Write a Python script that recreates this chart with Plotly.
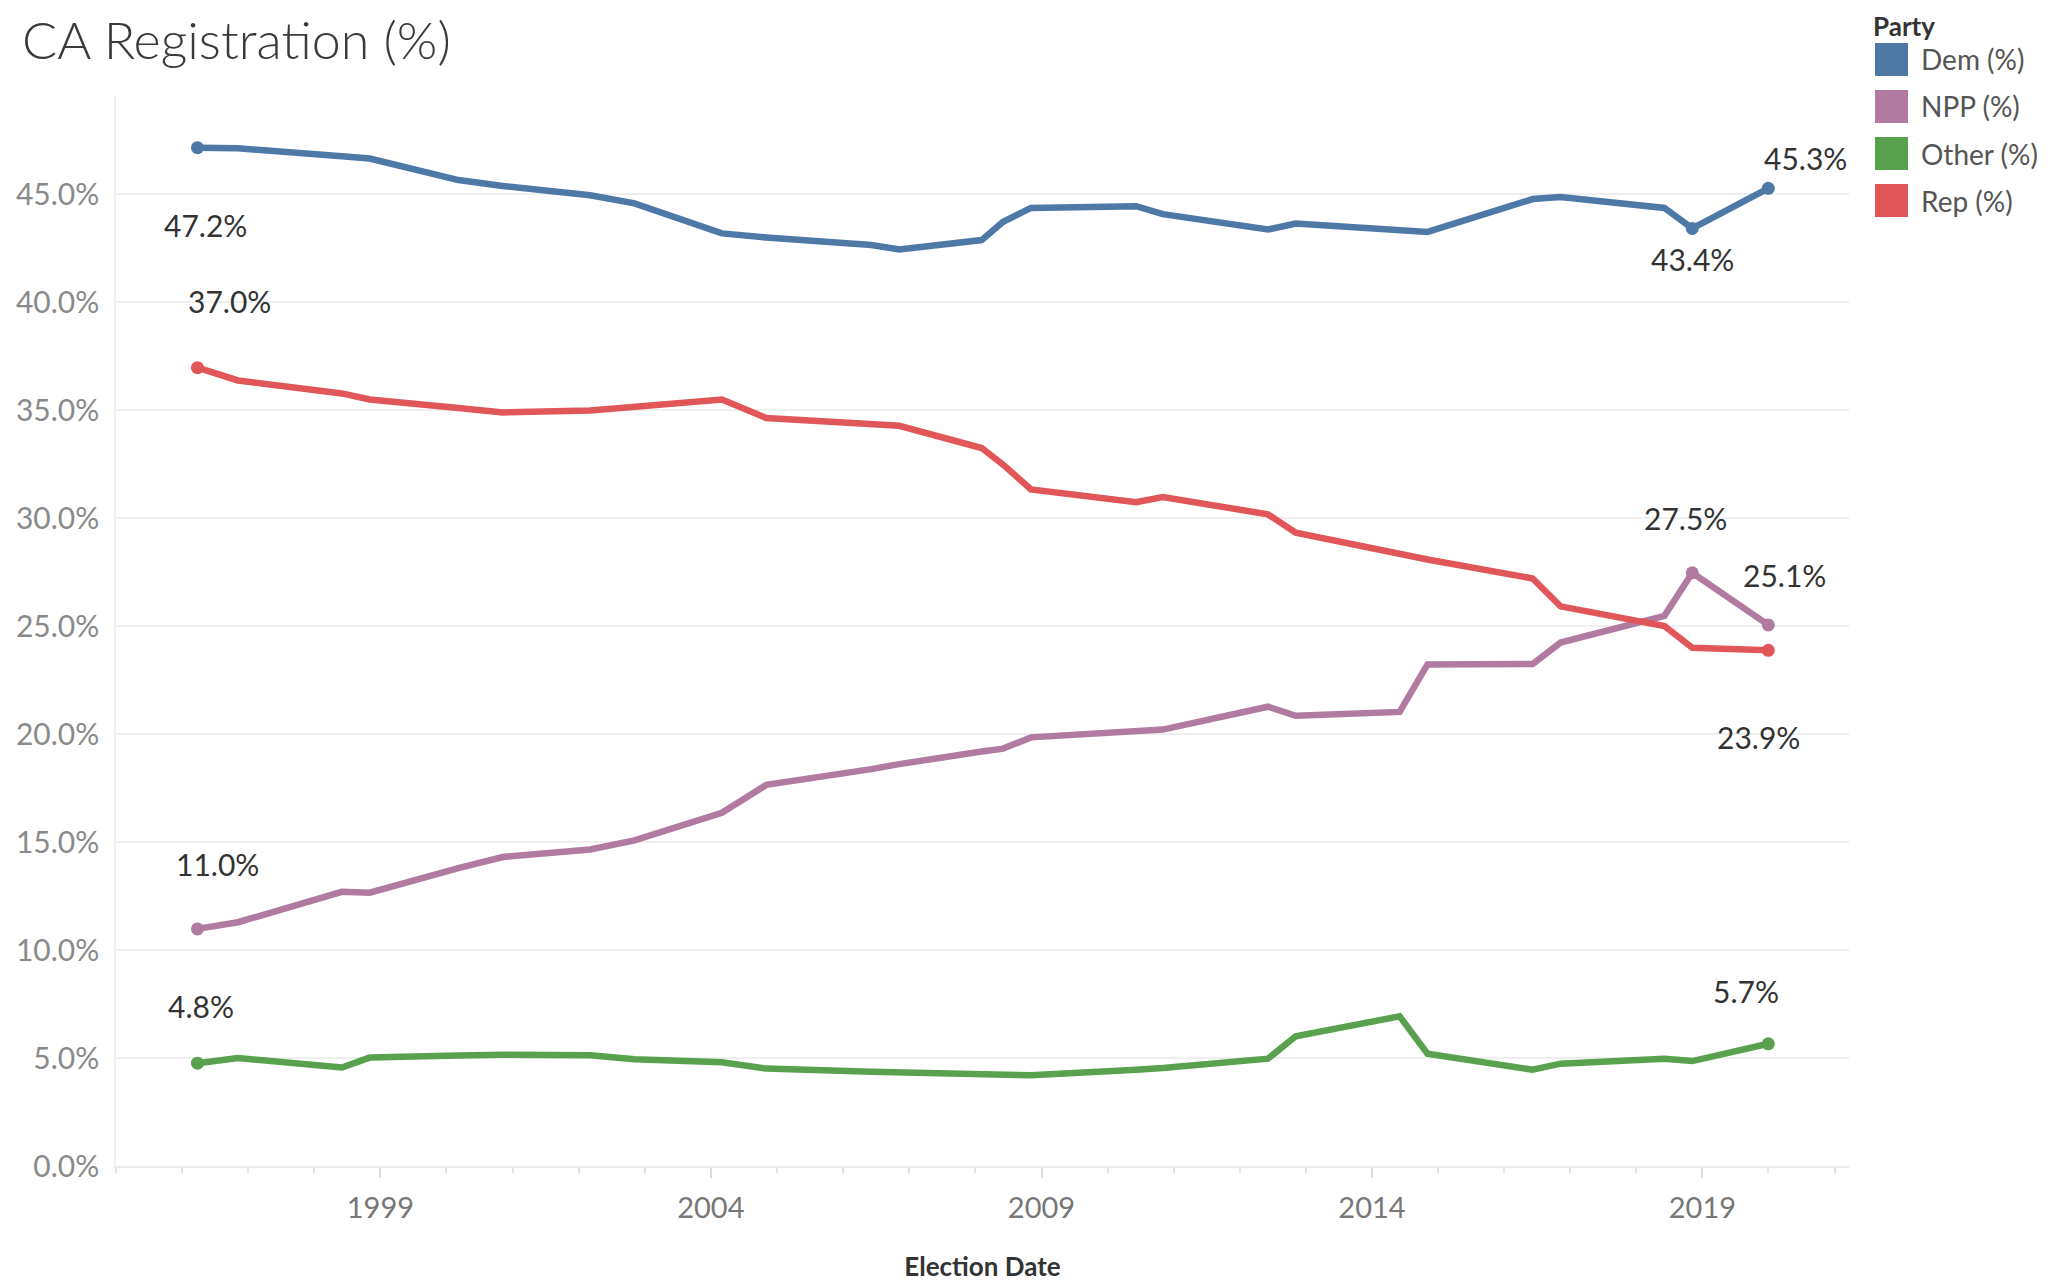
import plotly.graph_objects as go

# Fechas de elección (reportes de registro)
fechas = [
    '1996-03-26', '1996-11-05', '1998-06-02', '1998-11-03', '2000-03-07',
    '2000-11-07', '2002-03-05', '2002-11-05', '2004-03-02', '2004-11-02',
    '2006-06-06', '2006-11-07', '2008-02-05', '2008-06-03', '2008-11-04',
    '2010-06-08', '2010-11-02', '2012-06-05', '2012-11-06', '2014-06-03',
    '2014-11-04', '2016-06-07', '2016-11-08', '2018-06-05', '2018-11-06',
    '2019-12-31',
]

dem = [47.16, 47.13, 46.76, 46.66, 45.66, 45.39, 44.96, 44.58, 43.19, 43.00,
       42.65, 42.45, 42.88, 43.73, 44.37, 44.45, 44.08, 43.37, 43.65, 43.36,
       43.26, 44.78, 44.88, 44.37, 43.42, 45.28]
npp = [10.98, 11.29, 12.70, 12.66, 13.80, 14.31, 14.66, 15.08, 16.36, 17.65,
       18.38, 18.61, 19.20, 19.33, 19.85, 20.14, 20.21, 21.27, 20.85, 21.03,
       23.23, 23.25, 24.24, 25.48, 27.47, 25.06]
otros = [4.76, 5.00, 4.56, 5.02, 5.12, 5.15, 5.13, 4.94, 4.80, 4.51,
         4.37, 4.33, 4.23, 4.20, 4.20, 4.46, 4.54, 4.97, 6.01, 6.93,
         5.20, 4.46, 4.74, 4.97, 4.86, 5.66]
rep = [36.97, 36.38, 35.78, 35.50, 35.10, 34.90, 34.99, 35.16, 35.50, 34.64,
       34.35, 34.28, 33.25, 32.48, 31.33, 30.74, 30.98, 30.18, 29.33, 28.36,
       28.09, 27.21, 25.92, 25.01, 24.00, 23.88]

y_ticks = [0, 5, 10, 15, 20, 25, 30, 35, 40, 45]

# nombre, valores, color, puntos etiquetados (índice, xshift, yshift)
SERIES = [
    ('Dem (%)', dem, '#4e79a7', [(0, 8, -77), (24, 0, -31), (25, 37, 30)]),
    ('NPP (%)', npp, '#b07aa1', [(0, 20, 65), (24, -7, 55), (25, 16, 50)]),
    ('Other (%)', otros, '#59a14f', [(0, 4, 57), (25, -22, 53)]),
    ('Rep (%)', rep, '#e15759', [(0, 32, 67), (25, -10, -87)]),
]

FUENTE = 'Lato, Open Sans, sans-serif'
# el body de la página agrega 8px de margen
OFF = 8
W, H = 2062 - OFF, 1282 - OFF
L, R, T, B = 116 - OFF, 1849 - OFF, 95 - OFF, 1166 - OFF


def px_x(x):
    return (x - OFF - L) / (R - L)


def px_y(y):
    return (B - (y - OFF)) / (B - T)


fig = go.Figure()
anotaciones = []
for nombre, vals, color, etiquetas in SERIES:
    fig.add_trace(go.Scatter(
        x=fechas, y=vals, name=nombre, mode='lines',
        line=dict(color=color, width=6.5),
        showlegend=False,
    ))
    idx = [e[0] for e in etiquetas]
    fig.add_trace(go.Scatter(
        x=[fechas[i] for i in idx], y=[vals[i] for i in idx],
        mode='markers', marker=dict(color=color, size=13),
        showlegend=False, hoverinfo='skip',
    ))
    for i, dx, dy in etiquetas:
        anotaciones.append(dict(
            x=fechas[i], y=vals[i], xref='x', yref='y',
            text=f'{vals[i]:.1f}%', showarrow=False,
            xshift=dx, yshift=dy,
            font=dict(family=FUENTE, size=30, color='#333333'),
        ))

# Leyenda manual (cuadrados tipo Tableau)
formas = []
anotaciones.append(dict(
    x=px_x(1872), y=px_y(OFF + 1), xref='paper', yref='paper',
    text='<b>Party</b>', showarrow=False, xanchor='left', yanchor='top',
    borderpad=0, font=dict(family=FUENTE, size=26, color='#333333'),
))
for k, (nombre, _, color, _) in enumerate(SERIES):
    y0 = 43 + k * 47
    formas.append(dict(
        type='rect', xref='paper', yref='paper',
        x0=px_x(1875), x1=px_x(1908), y0=px_y(y0 + 33), y1=px_y(y0),
        fillcolor=color, line=dict(width=0),
    ))
    anotaciones.append(dict(
        x=px_x(1919), y=px_y(y0 + 16.5), xref='paper', yref='paper',
        text=nombre, showarrow=False, xanchor='left', yanchor='middle',
        font=dict(family=FUENTE, size=28, color='#555555'),
    ))

fig.update_layout(
    width=W, height=H,
    margin=dict(l=L, r=W - R, t=T, b=H - B, pad=0, autoexpand=False),
    paper_bgcolor='white', plot_bgcolor='white',
    title=dict(
        text='CA Registration (%)', xref='container', yref='container',
        x=(22 - OFF) / W, xanchor='left', y=1 - (41 - OFF) / H, yanchor='middle',
        font=dict(family=FUENTE, size=52, color='#3a3a3a', weight=300),
    ),
    annotations=anotaciones,
    shapes=formas,
    showlegend=False,
)
fig.update_xaxes(
    type='date', range=['1995-01-01', '2021-03-21'],
    tick0='1999-01-01', dtick='M60', tickformat='%Y',
    ticks='outside', ticklen=10, tickwidth=1.5, tickcolor='#dddddd',
    minor=dict(ticks='outside', ticklen=5, tickcolor='#e3e3e3', dtick='M12',
               tick0='1995-01-01', showgrid=False),
    showgrid=False, showline=True, linecolor='#ebebeb', linewidth=2,
    tickfont=dict(family=FUENTE, size=29, color='#777777'),
    ticklabelstandoff=5, automargin=False,
    title=dict(text='<b>Election Date</b>', standoff=38,
               font=dict(family=FUENTE, size=26, color='#333333')),
    zeroline=False,
)
fig.update_yaxes(
    range=[0, 49.6], tickvals=y_ticks,
    ticktext=[f'{v:.1f}%' for v in y_ticks],
    showgrid=True, gridcolor='#efefef', gridwidth=2,
    showline=True, linecolor='#f2f2f2', linewidth=1.5,
    zeroline=False, ticks='', automargin=False,
    tickfont=dict(family=FUENTE, size=30, color='#8a8a8a'),
    ticklabelstandoff=9,
)

fig.write_html('out.html')
